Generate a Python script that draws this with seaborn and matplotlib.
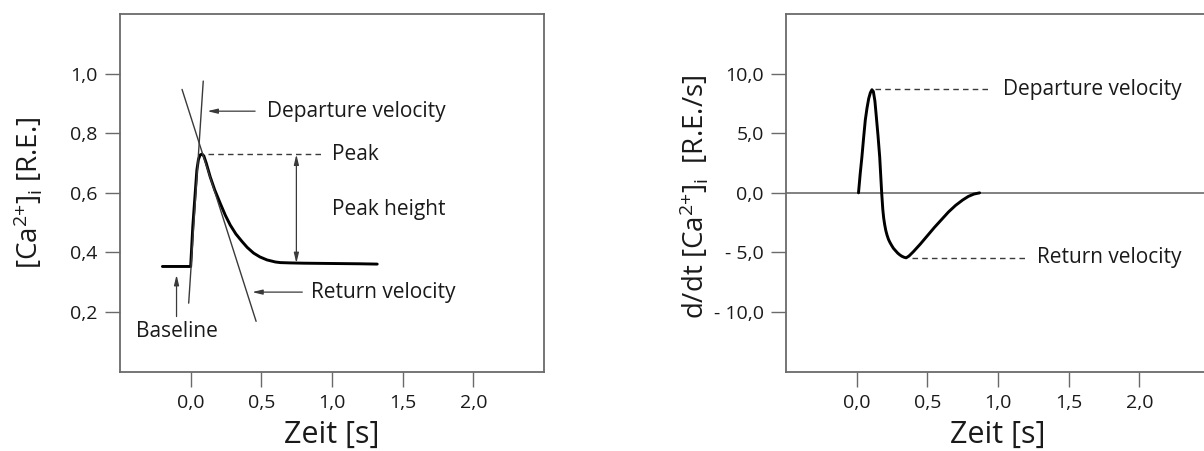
import matplotlib
matplotlib.use("Agg")
import matplotlib.pyplot as plt
from matplotlib.ticker import FixedLocator, FixedFormatter
import seaborn as sns
import pandas as pd

# ---------------- data ----------------
# Left panel: calcium transient
t_ca = [-0.20, 0.00, 0.015, 0.032, 0.044, 0.055, 0.067, 0.08, 0.093, 0.11, 0.138,
        0.17, 0.209, 0.245, 0.28, 0.32, 0.363, 0.40, 0.445, 0.49, 0.54, 0.60,
        0.635, 0.70, 0.80, 1.00, 1.20, 1.32]
ca = [0.353, 0.353, 0.487, 0.599, 0.677, 0.712, 0.727, 0.730, 0.724, 0.700, 0.654,
      0.610, 0.565, 0.525, 0.492, 0.462, 0.437, 0.417, 0.398, 0.385, 0.375, 0.368,
      0.366, 0.365, 0.364, 0.363, 0.362, 0.361]

# tangent lines (endpoints)
dep_tangent_t = [-0.014, 0.089]
dep_tangent_v = [0.230, 0.975]
ret_tangent_t = [-0.061, 0.463]
ret_tangent_v = [0.947, 0.169]

peak_value = 0.729
plateau_value = 0.364
baseline_value = 0.353

# Right panel: first derivative
t_dv = [0.013, 0.025, 0.037, 0.049, 0.061, 0.073, 0.085, 0.097, 0.108, 0.118, 0.129,
        0.139, 0.151, 0.163, 0.177, 0.185, 0.191, 0.198, 0.206, 0.215, 0.225, 0.235,
        0.247, 0.26, 0.275, 0.29, 0.305, 0.32, 0.335, 0.35, 0.37, 0.40, 0.45, 0.50,
        0.55, 0.60, 0.65, 0.70, 0.75, 0.79, 0.83, 0.87]
dv = [0.0, 1.6, 3.0, 4.6, 6.1, 7.1, 7.9, 8.4, 8.65, 8.5, 7.7,
      6.4, 4.8, 3.0, 0.0, -1.4, -2.1, -2.65, -3.15, -3.55, -3.9, -4.15,
      -4.4, -4.65, -4.85, -5.05, -5.2, -5.32, -5.4, -5.45, -5.3, -4.95, -4.3, -3.6,
      -2.9, -2.25, -1.6, -1.05, -0.6, -0.3, -0.1, 0.0]
dv_max = 8.68
dv_min = -5.44

# ticks
x_ticks = [0.0, 0.5, 1.0, 1.5, 2.0]
x_tick_labels = ["0,0", "0,5", "1,0", "1,5", "2,0"]
ca_ticks = [0.2, 0.4, 0.6, 0.8, 1.0]
ca_tick_labels = ["0,2", "0,4", "0,6", "0,8", "1,0"]
dv_ticks = [-10.0, -5.0, 0.0, 5.0, 10.0]
dv_tick_labels = ["- 10,0", "- 5,0", "0,0", "5,0", "10,0"]

# ---------------- style ----------------
sns.set_theme(style="white")
FONT = ["Open Sans", "DejaVu Sans"]
plt.rcParams["font.family"] = FONT
plt.rcParams["mathtext.fontset"] = "custom"
plt.rcParams["mathtext.rm"] = "Open Sans"
plt.rcParams["mathtext.it"] = "Open Sans:italic"
plt.rcParams["mathtext.bf"] = "Open Sans:bold"

SPINE = "#6a6a6a"
TXT = "#1a1a1a"
LINE = "#3a3a3a"

fig = plt.figure(figsize=(12.04, 4.51), dpi=100)
ax1 = fig.add_axes([120 / 1204, 1 - 371.7 / 451, 424 / 1204, 357.7 / 451])
ax2 = fig.add_axes([786 / 1204, 1 - 371.7 / 451, 424 / 1204, 357.7 / 451])


def style_axes(ax):
    for s in ax.spines.values():
        s.set_color(SPINE)
        s.set_linewidth(1.3)
    ax.tick_params(axis="both", direction="out", length=11, width=1.0,
                   color=SPINE, labelsize=14, labelcolor=TXT, pad=5,
                   left=True, bottom=True)
    ax.set_xlim(-0.5, 2.5)
    ax.xaxis.set_major_locator(FixedLocator(x_ticks))
    ax.xaxis.set_major_formatter(FixedFormatter(x_tick_labels))
    ax.set_xlabel("Zeit [s]", fontsize=22, color=TXT)
    ax.xaxis.set_label_coords(0.5, -0.135)


# ---------------- left panel ----------------
style_axes(ax1)
df_ca = pd.DataFrame({"t": t_ca, "ca": ca})
sns.lineplot(data=df_ca, x="t", y="ca", ax=ax1, color="black", lw=2.1,
             estimator=None, sort=False)
sns.lineplot(x=dep_tangent_t, y=dep_tangent_v, ax=ax1, color=LINE, lw=1.0,
             estimator=None, sort=False)
sns.lineplot(x=ret_tangent_t, y=ret_tangent_v, ax=ax1, color=LINE, lw=1.0,
             estimator=None, sort=False)
ax1.set_ylim(0.0, 1.2)
ax1.yaxis.set_major_locator(FixedLocator(ca_ticks))
ax1.yaxis.set_major_formatter(FixedFormatter(ca_tick_labels))
ax1.set_ylabel(r"[Ca$^{\mathregular{2{+}}}$]$_{\mathregular{i}}$ [R.E.]",
               fontsize=20, color=TXT, va="center")
ax1.yaxis.set_label_coords(-0.218, 0.5)

arrow = dict(arrowstyle="-|>,head_length=0.5,head_width=0.12", color=LINE,
             lw=0.9, shrinkA=0, shrinkB=0)
ann_fs = 15
# departure velocity
ax1.annotate("", xy=(0.118, 0.874), xytext=(0.456, 0.874), arrowprops=arrow)
ax1.text(0.537, 0.874, "Departure velocity", fontsize=ann_fs, color=TXT,
         va="center", ha="left")
# peak
ax1.plot([0.122, 0.927], [peak_value, peak_value], ls=(0, (4, 3)), color=LINE, lw=1.0)
ax1.text(1.0, peak_value, "Peak", fontsize=ann_fs, color=TXT, va="center", ha="left")
# peak height double arrow
ax1.annotate("", xy=(0.748, peak_value), xytext=(0.748, plateau_value),
             arrowprops=dict(arrowstyle="<|-|>,head_length=0.5,head_width=0.12",
                             color=LINE, lw=0.9, shrinkA=0, shrinkB=0))
ax1.text(1.0, 0.545, "Peak height", fontsize=ann_fs, color=TXT, va="center", ha="left")
# return velocity
ax1.annotate("", xy=(0.435, 0.267), xytext=(0.79, 0.267), arrowprops=arrow)
ax1.text(0.848, 0.267, "Return velocity", fontsize=ann_fs, color=TXT,
         va="center", ha="left")
# baseline
ax1.annotate("", xy=(-0.10, 0.325), xytext=(-0.10, 0.185), arrowprops=arrow)
ax1.text(-0.10, 0.135, "Baseline", fontsize=ann_fs, color=TXT, va="center", ha="center")

# ---------------- right panel ----------------
style_axes(ax2)
ax2.axhline(0.0, color="#777777", lw=1.3, zorder=1)
df_dv = pd.DataFrame({"t": t_dv, "dv": dv})
sns.lineplot(data=df_dv, x="t", y="dv", ax=ax2, color="black", lw=2.1,
             estimator=None, sort=False, zorder=3)
ax2.set_ylim(-15, 15)
ax2.yaxis.set_major_locator(FixedLocator(dv_ticks))
ax2.yaxis.set_major_formatter(FixedFormatter(dv_tick_labels))
ax2.set_ylabel(r"d/dt [Ca$^{\mathregular{2{+}}}$]$_{\mathregular{i}}$  [R.E./s]",
               fontsize=20, color=TXT, va="center")
ax2.yaxis.set_label_coords(-0.217, 0.49)

ax2.plot([0.132, 0.943], [dv_max, dv_max], ls=(0, (4, 3)), color=LINE, lw=1.0)
ax2.text(1.034, dv_max, "Departure velocity", fontsize=ann_fs, color=TXT,
         va="center", ha="left")
ax2.plot([0.393, 1.204], [dv_min, dv_min], ls=(0, (4, 3)), color=LINE, lw=1.0)
ax2.text(1.278, dv_min, "Return velocity", fontsize=ann_fs, color=TXT,
         va="center", ha="left")

fig.savefig("out.png", dpi=100)
